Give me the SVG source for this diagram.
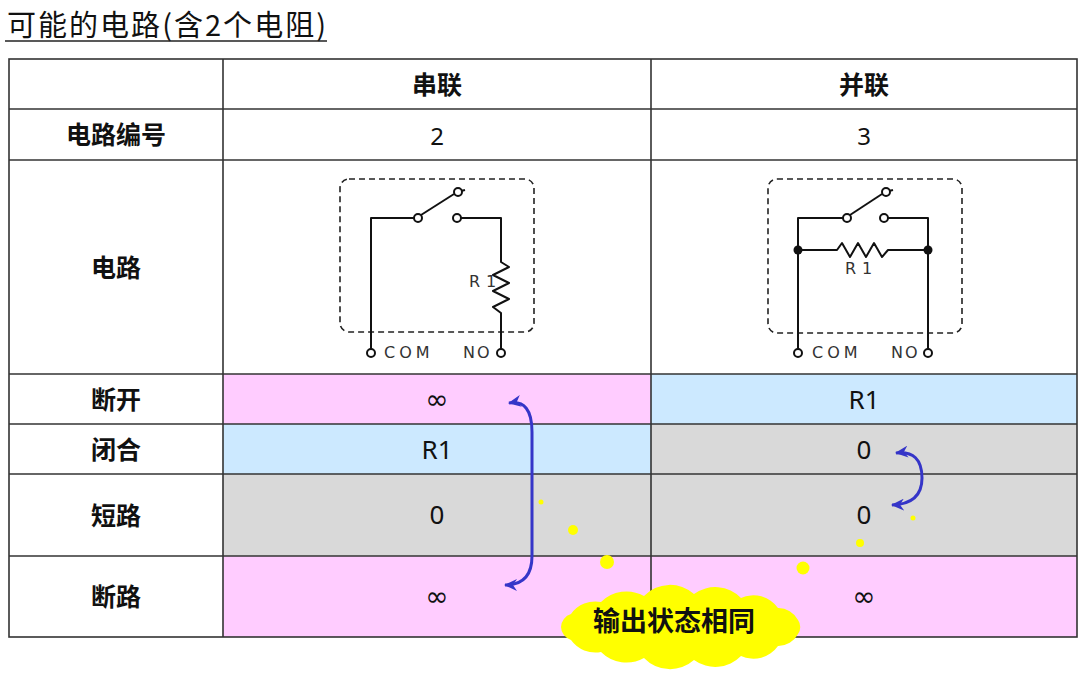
<svg xmlns="http://www.w3.org/2000/svg" width="1080" height="680" viewBox="0 0 1080 680">
<style>
.grid{stroke:#333;stroke-width:1.6;fill:none}
.hd{font-family:"Noto Sans CJK SC","Noto Sans",sans-serif;font-weight:bold;font-size:25px;fill:#111;text-anchor:middle}
.num{font-family:"Noto Sans","Noto Sans CJK SC",sans-serif;font-size:24px;fill:#111;text-anchor:middle}
.val{font-family:"Noto Sans","DejaVu Sans","Noto Sans CJK SC",sans-serif;font-size:26px;fill:#111;text-anchor:middle}
.inf{font-family:"DejaVu Sans","Noto Sans",sans-serif;font-size:28px;fill:#111;text-anchor:middle}
.w{stroke:#111;stroke-width:2;fill:none;stroke-linejoin:round}
.t{fill:#fff;stroke:#111;stroke-width:2}
.lbl{font-family:"DejaVu Sans","Noto Sans",sans-serif;font-size:16px;fill:#333;letter-spacing:4px}
.box{fill:none;stroke:#222;stroke-width:1.6;stroke-dasharray:6 4}
.arr{fill:none;stroke:#3535C8;stroke-width:3}
.dot{fill:#FFFF00}
</style>
<defs>
<marker id="ah" markerUnits="userSpaceOnUse" markerWidth="14" markerHeight="12" refX="12" refY="6" orient="auto-start-reverse">
<path d="M0,0 L13,6 L0,12 L4,6 Z" fill="#3535C8"/>
</marker>
</defs>
<rect width="1080" height="680" fill="#fff"/>
<g id="title">
<text x="7" y="36" font-family="'Noto Sans CJK SC','Noto Sans',sans-serif" font-size="29" fill="#111" textLength="319" lengthAdjust="spacing">可能的电路(含2个电阻)</text>
<line x1="5" y1="41" x2="327" y2="41" stroke="#222" stroke-width="1.6"/>
</g>
<g id="cells">
<rect x="223" y="374" width="428" height="50" fill="#FFCCFF"/>
<rect x="651" y="374" width="426" height="50" fill="#CCE9FF"/>
<rect x="223" y="424" width="428" height="50" fill="#CCE9FF"/>
<rect x="651" y="424" width="426" height="50" fill="#D9D9D9"/>
<rect x="223" y="474" width="854" height="82" fill="#D9D9D9"/>
<rect x="223" y="556" width="854" height="81" fill="#FFCCFF"/>
</g>
<g id="grid" class="grid">
<rect x="9" y="59" width="1068" height="578"/>
<line x1="223" y1="59" x2="223" y2="637"/>
<line x1="651" y1="59" x2="651" y2="637"/>
<line x1="9" y1="109" x2="1077" y2="109"/>
<line x1="9" y1="160" x2="1077" y2="160"/>
<line x1="9" y1="374" x2="1077" y2="374"/>
<line x1="9" y1="424" x2="1077" y2="424"/>
<line x1="9" y1="474" x2="1077" y2="474"/>
<line x1="9" y1="556" x2="1077" y2="556"/>
</g>
<g id="row-labels">
<text class="hd" x="437" y="94">串联</text>
<text class="hd" x="864" y="94">并联</text>
<text class="hd" x="116" y="144">电路编号</text>
<text class="hd" x="116" y="277">电路</text>
<text class="hd" x="116" y="409">断开</text>
<text class="hd" x="116" y="459">闭合</text>
<text class="hd" x="116" y="525">短路</text>
<text class="hd" x="116" y="606">断路</text>
</g>
<g id="values">
<text class="num" x="437" y="145">2</text>
<text class="num" x="864" y="145">3</text>
<text class="inf" x="437" y="409">∞</text>
<text class="val" x="864" y="409">R1</text>
<text class="val" x="437" y="459">R1</text>
<text class="val" x="864" y="459">0</text>
<text class="val" x="437" y="524">0</text>
<text class="val" x="864" y="524">0</text>
<text class="inf" x="437" y="606">∞</text>
<text class="inf" x="864" y="606">∞</text>
</g>
<g id="circuit-series">
<rect class="box" x="340" y="179" width="194" height="153" rx="9"/>
<polyline class="w" points="371,349 371,218 414,218"/>
<line class="w" x1="421" y1="215" x2="454" y2="194"/>
<line class="w" x1="461" y1="191" x2="465" y2="190"/>
<polyline class="w" points="461,218 501,218 501,262 509,267 493,275 509,283 493,291 509,299 493,307 501,313 501,349"/>
<circle class="t" cx="418" cy="218" r="4"/>
<circle class="t" cx="458" cy="192" r="4"/>
<circle class="t" cx="457" cy="218" r="4"/>
<circle class="t" cx="371" cy="353" r="4"/>
<circle class="t" cx="501" cy="353" r="4"/>
<text class="lbl" x="469" y="287" style="letter-spacing:6px">R1</text>
<text class="lbl" x="384" y="358">COM</text>
<text class="lbl" x="463" y="358" style="letter-spacing:2px">NO</text>
</g>
<g id="circuit-parallel">
<rect class="box" x="768" y="179" width="194" height="154" rx="9"/>
<polyline class="w" points="798,349 798,218 843,218"/>
<line class="w" x1="850" y1="215" x2="882" y2="194"/>
<line class="w" x1="889" y1="191" x2="893" y2="190"/>
<polyline class="w" points="888,218 928,218 928,349"/>
<polyline class="w" points="798,250 837,250 842,243 850,257 858,243 866,257 874,243 882,257 888,250 928,250"/>
<circle cx="798" cy="250" r="4.5" fill="#111"/>
<circle cx="928" cy="250" r="4.5" fill="#111"/>
<circle class="t" cx="847" cy="218" r="4"/>
<circle class="t" cx="886" cy="192" r="4"/>
<circle class="t" cx="884" cy="218" r="4"/>
<circle class="t" cx="798" cy="353" r="4"/>
<circle class="t" cx="928" cy="353" r="4"/>
<text class="lbl" x="845" y="274" style="letter-spacing:6px">R1</text>
<text class="lbl" x="812" y="358">COM</text>
<text class="lbl" x="891" y="358" style="letter-spacing:2px">NO</text>
</g>
<g id="connectors">
<path class="arr" d="M509,403 Q532,399 532,432 L532,556 Q532,585 505,585" marker-start="url(#ah)" marker-end="url(#ah)"/>
<path class="arr" d="M896,453 Q922,450 922,478 Q922,504 892,505" marker-start="url(#ah)" marker-end="url(#ah)"/>
</g>
<g id="dots">
<circle class="dot" cx="541" cy="502" r="2.5"/>
<circle class="dot" cx="573" cy="530" r="5"/>
<circle class="dot" cx="607" cy="562" r="7"/>
<circle class="dot" cx="803" cy="568" r="6.5"/>
<circle class="dot" cx="860" cy="543" r="4"/>
<circle class="dot" cx="913" cy="518" r="2.5"/>
</g>
<g id="cloud">
<path fill="#FFFF00" d="M561,627 A14,14 0 0 1 571,614 A30,30 0 0 1 601,602 A36,36 0 0 1 644,596 A36,36 0 0 1 694,594 A36,36 0 0 1 741,598 A30,30 0 0 1 778,608 A22,22 0 0 1 798,620 A12,12 0 0 1 798,634 A22,22 0 0 1 778,646 A30,30 0 0 1 741,656 A36,36 0 0 1 694,660 A36,36 0 0 1 644,658 A36,36 0 0 1 601,652 A30,30 0 0 1 571,640 A14,14 0 0 1 561,627 Z"/>
<text x="674" y="631" text-anchor="middle" font-family="'Noto Sans CJK SC',sans-serif" font-weight="bold" font-size="27" fill="#111">输出状态相同</text>
</g>
</svg>
